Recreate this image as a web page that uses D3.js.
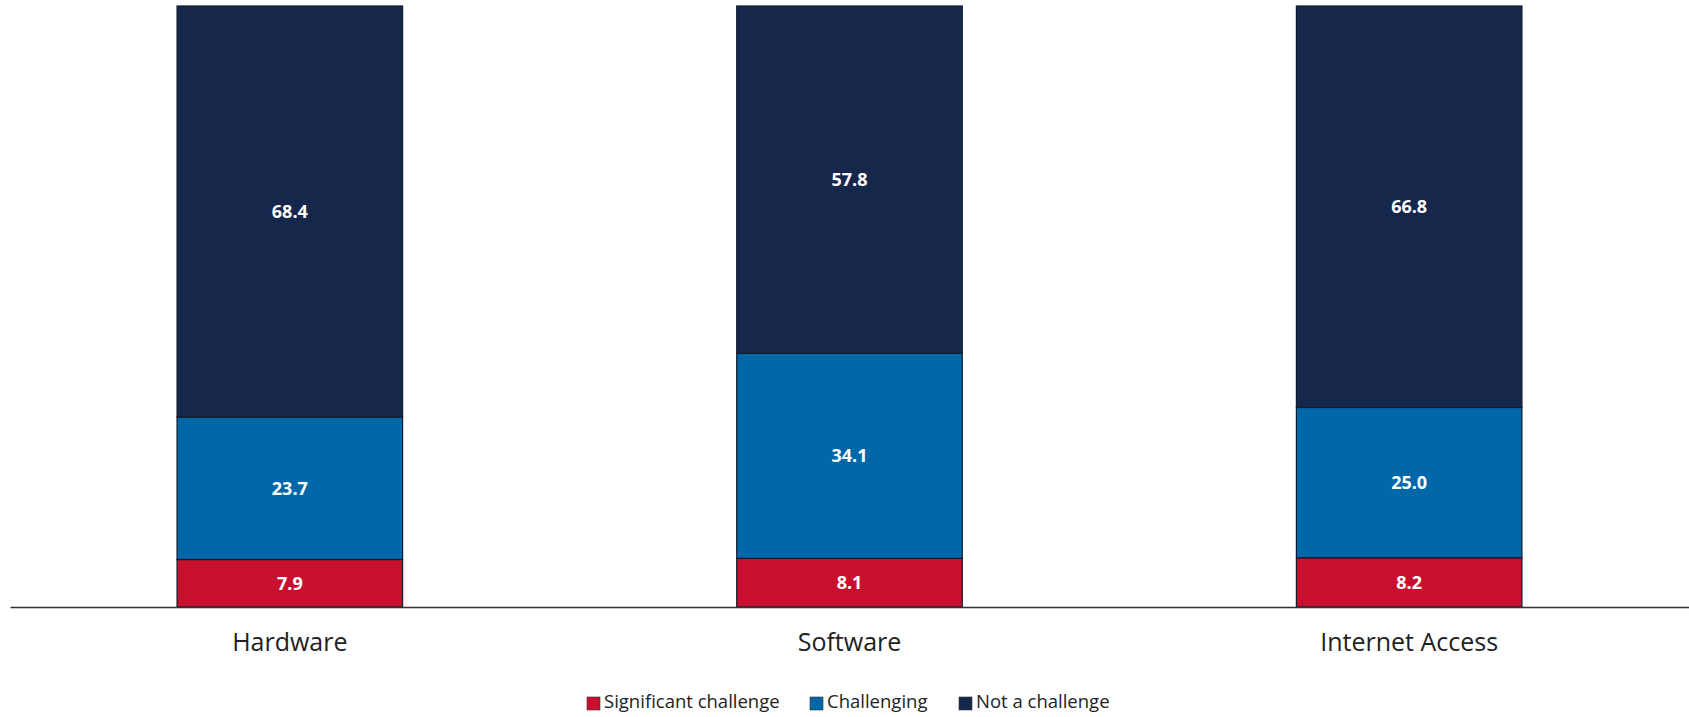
<!DOCTYPE html>
<html>
<head>
<meta charset="utf-8">
<script src="https://cdn.jsdelivr.net/npm/d3@7"></script>
<style>
  body { margin: 0; background: white; }
  svg { display: block; font-family: "Open Sans", sans-serif; }
</style>
</head>
<body>
<div id="container"></div>
<script>
const categories = ["Hardware", "Software", "Internet Access"];
const seriesNames = ["Significant challenge", "Challenging", "Not a challenge"];
const significant = [7.9, 8.1, 8.2];
const challenging = [23.7, 34.1, 25.0];
const notChallenge = [68.4, 57.8, 66.8];
const colors = ["#c8102e", "#0068a8", "#15284b"];

const width = 1689;
const height = 717;
const marginTop = 6;
const marginBottom = 110;
const marginLeft = 10;
const marginRight = 0;

// rows for d3.stack
const table = categories.map((c, i) => ({
  cat: c,
  "Significant challenge": significant[i],
  "Challenging": challenging[i],
  "Not a challenge": notChallenge[i]
}));
const series = d3.stack().keys(seriesNames)(table);

const x = d3.scaleBand()
  .domain(categories)
  .range([marginLeft, width - marginRight])
  .paddingInner(0.597)
  .paddingOuter(0.2985);

const y = d3.scaleLinear()
  .domain([0, 100])
  .range([height - marginBottom, marginTop]);

const color = d3.scaleOrdinal().domain(seriesNames).range(colors);

const svg = d3.select("#container").append("svg")
  .attr("width", width)
  .attr("height", height);

const layer = svg.append("g")
  .selectAll("g")
  .data(series)
  .join("g")
  .attr("fill", d => color(d.key));

layer.selectAll("rect")
  .data(d => d)
  .join("rect")
  .attr("x", d => x(d.data.cat))
  .attr("y", d => y(d[1]))
  .attr("width", x.bandwidth())
  .attr("height", d => y(d[0]) - y(d[1]))
  .attr("stroke", "#111a2e")
  .attr("stroke-width", 1.2);

layer.selectAll("text")
  .data(d => d)
  .join("text")
  .attr("x", d => x(d.data.cat) + x.bandwidth() / 2)
  .attr("y", d => (y(d[0]) + y(d[1])) / 2)
  .attr("dy", "0.35em")
  .attr("text-anchor", "middle")
  .attr("fill", "white")
  .attr("font-weight", "bold")
  .attr("font-size", 18)
  .text(d => (d[1] - d[0]).toFixed(1));

// x axis
svg.append("g")
  .attr("transform", `translate(0,${y(0)})`)
  .call(d3.axisBottom(x).tickSize(0).tickPadding(26))
  .call(g => g.select(".domain").attr("stroke", "#333").attr("stroke-width", 1.5))
  .call(g => g.selectAll(".tick text")
    .attr("font-size", 25)
    .attr("font-family", "'Open Sans', sans-serif")
    .attr("fill", "#222"));

// legend
const legendX = [587, 810, 959];
const legend = svg.append("g")
  .selectAll("g")
  .data(seriesNames)
  .join("g")
  .attr("transform", (d, i) => `translate(${legendX[i]},702)`);

legend.append("rect")
  .attr("x", 0)
  .attr("y", -5)
  .attr("width", 13)
  .attr("height", 13)
  .attr("fill", d => color(d))
  .attr("stroke", "#333")
  .attr("stroke-width", 0.6);

legend.append("text")
  .attr("x", 17)
  .attr("dy", "0.35em")
  .attr("font-size", 18.5)
  .attr("fill", "#222")
  .text(d => d);
</script>
</body>
</html>
